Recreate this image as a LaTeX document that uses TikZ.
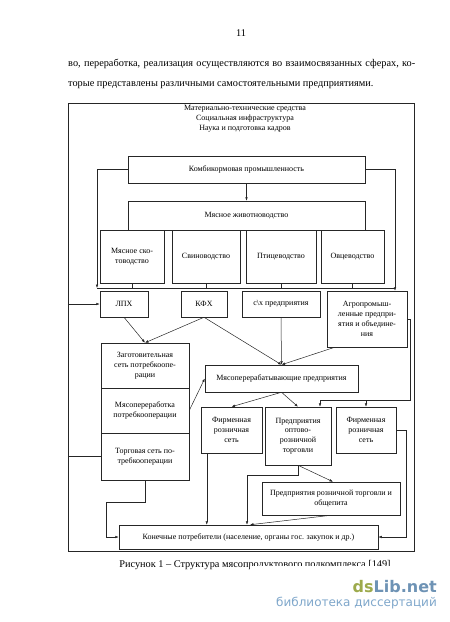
\documentclass[tikz,border=0pt]{standalone}
\usepackage{fontspec}
\setmainfont{Liberation Serif}
\newfontfamily\wmfont{DejaVu Sans}
\usetikzlibrary{arrows.meta, positioning}

\definecolor{wmgreen}{HTML}{9DAA4C}
\definecolor{wmblue}{HTML}{6E93B5}
\definecolor{wmlight}{HTML}{7FA7CB}

\newcommand{\dgfont}{\fontsize{8}{9.8}\selectfont}
\newcommand{\txtfont}{\fontsize{10.3}{12}\selectfont}

\begin{document}
\begin{tikzpicture}[x=1pt, y=-1pt,
  blk/.style={draw, black!85, text=black, line width=0.5pt, inner sep=0pt,
              align=center, font=\dgfont},
  sub/.style={blk, minimum height=53pt},
  row/.style={blk, minimum height=26pt},
  lnk/.style={black!85, line width=0.5pt},
  arr/.style={lnk, -{Latex[length=3.5pt, width=2.6pt]}}]
  \useasboundingbox (0,0) rectangle (450,622);

  % Page text
  \node[anchor=base, font=\txtfont] (pnum) at (241,36) {11};
  \node[anchor=base west, font=\txtfont, inner sep=0pt] (ln1) at (68,66)
       {\makebox[347pt][s]{во, переработка, реализация осуществляются во взаимосвязанных сферах, ко-}};
  \node[anchor=base west, font=\txtfont, inner sep=0pt] (ln2) at (68,86)
       {торые представлены различными самостоятельными предприятиями.};

  % Frame
  \node[blk, minimum width=346pt, minimum height=448pt] (frame) at (241,327) {};
  \node[font=\dgfont, align=center] (res) at (245,119)
       {Материально-технические средства\\Социальная инфраструктура\\Наука и подготовка кадров};

  % Feed and livestock
  \node[blk, minimum width=237pt, minimum height=27pt] (kombi) at (246.5,169.5) {Комбикормовая промышленность};
  \node[blk, minimum width=237pt, minimum height=29pt] (zhivot) at (246.5,215.5) {Мясное животноводство};
  \node[sub, minimum width=64pt] (skot) at (132,256.5) {Мясное ско-\\товодство};
  \node[sub, minimum width=68pt] (svin) at (206,256.5) {Свиноводство};
  \node[sub, minimum width=70pt] (ptic) at (281,256.5) {Птицеводство};
  \node[sub, minimum width=63pt] (ovc)  at (352.5,256.5) {Овцеводство};

  % Producers
  \node[row, minimum width=48pt] (lph) at (124,304) {ЛПХ};
  \node[row, minimum width=46pt] (kfh) at (204,304) {КФХ};
  \node[row, minimum width=78pt] (shp) at (281,304) {с\textbackslash х предприятия};
  \node[blk, minimum width=80pt, minimum height=56pt] (agro) at (367,319)
       {Агропромыш-\\ленные предпри-\\ятия и объедине-\\ния};

  % Consumer cooperation column
  \node[blk, minimum width=88pt, minimum height=45pt] (zagot)  at (145,365.5) {Заготовительная\\сеть потребкоопе-\\рации};
  \node[blk, minimum width=88pt, minimum height=45pt] (potreb) at (145,410.5) {Мясопереработка\\потребкооперации};
  \node[blk, minimum width=88pt, minimum height=47pt] (torg)   at (145,456.5) {Торговая сеть по-\\требкооперации};

  % Processing and trade
  \node[blk, minimum width=153pt, minimum height=27pt] (mpp) at (281.5,378.5) {Мясоперерабатывающие предприятия};
  \node[blk, minimum width=61pt, minimum height=46pt] (firm1) at (231.5,430) {Фирменная\\розничная\\сеть};
  \node[blk, minimum width=66pt, minimum height=58pt] (opt)   at (298,436) {Предприятия\\оптово-\\розничной\\торговли};
  \node[blk, minimum width=60pt, minimum height=46pt] (firm2) at (366,430) {Фирменная\\розничная\\сеть};
  \node[blk, minimum width=138pt, minimum height=33pt] (rozn) at (331,498.5) {Предприятия розничной торговли и\\общепита};
  \node[blk, minimum width=259pt, minimum height=24pt] (konech) at (248.5,537)
       {Конечные потребители (население, органы гос. закупок и др.)};

  % Bus under livestock
  \coordinate (busL) at (97,288);
  \coordinate (busR) at (395,288);
  \draw[lnk] (busL) -- (busR);
  \foreach \b in {skot,svin,ptic,ovc}
    \draw[lnk] (\b.south) -- (\b.south |- busL);

  % Feed links
  \draw[arr] (kombi.west) -| (busL);
  \draw[arr] (kombi.east) -| (busR |- agro.north);
  \draw[arr] (kombi.south) -- (zhivot.north);

  % Inputs from the frame
  \draw[arr] (frame.west |- lph.west) -- (lph.west);
  \draw[lnk] (frame.west |- torg.west) -- (torg.west);

  % Producers to buyers
  \draw[arr] (lph.south) -- (zagot.north);
  \draw[arr] (kfh.south) -- (zagot.north);
  \draw[arr] (kfh.south) -- (mpp.north);
  \draw[arr] (shp.south) -- (mpp.north);
  \draw[arr] ([xshift=8pt]agro.south west) -- (mpp.north);
  \draw[arr] (potreb.east) -- (mpp.west);

  % Processing to trade
  \draw[arr] (mpp.south) -- (firm1.north);
  \draw[arr] (mpp.south) -- (opt.north);
  \coordinate (aR) at (410,400);
  \coordinate (aL) at (320,400);
  \draw[lnk] (agro.east) -| (aR) -- (aL);
  \draw[arr] (aL) -- (aL |- opt.north);
  \draw[arr] (aR -| firm2.north) -- (firm2.north);
  \draw[arr] (opt.south) -- ([xshift=2pt]rozn.north west -| rozn.north);

  % To final consumers
  \draw[arr] (opt.south) -- ++(0,10) -| ([xshift=-1.5pt]konech.north);
  \draw[arr] (rozn.south) -- ([xshift=1.5pt]konech.north);
  \draw[arr] ([xshift=6pt]firm1.south west) -- ([xshift=6pt]firm1.south west |- konech.north);
  \draw[arr] (torg.south) -- ++(0,22) -| ([xshift=-13pt]konech.west) -- (konech.west);
  \draw[arr] (firm2.east) -- ++(10,0) |- (konech.east);

  % Caption and watermark
  \node[anchor=base, font=\txtfont] (cap) at (255,567)
       {Рисунок 1 – Структура мясопродуктового подкомплекса [149]};
  \fill[white] (250,566) rectangle (450,622);
  \node[anchor=base east, inner sep=0pt, font=\wmfont\bfseries\fontsize{16}{16}\selectfont] (wm) at (437,592)
       {\textcolor{wmgreen}{ds}\textcolor{wmblue}{Lib.net}};
  \node[anchor=base east, inner sep=0pt, text=wmlight, font=\wmfont\fontsize{12}{12}\selectfont] (wmsub) at (437,606)
       {библиотека диссертаций};
\end{tikzpicture}
\end{document}
